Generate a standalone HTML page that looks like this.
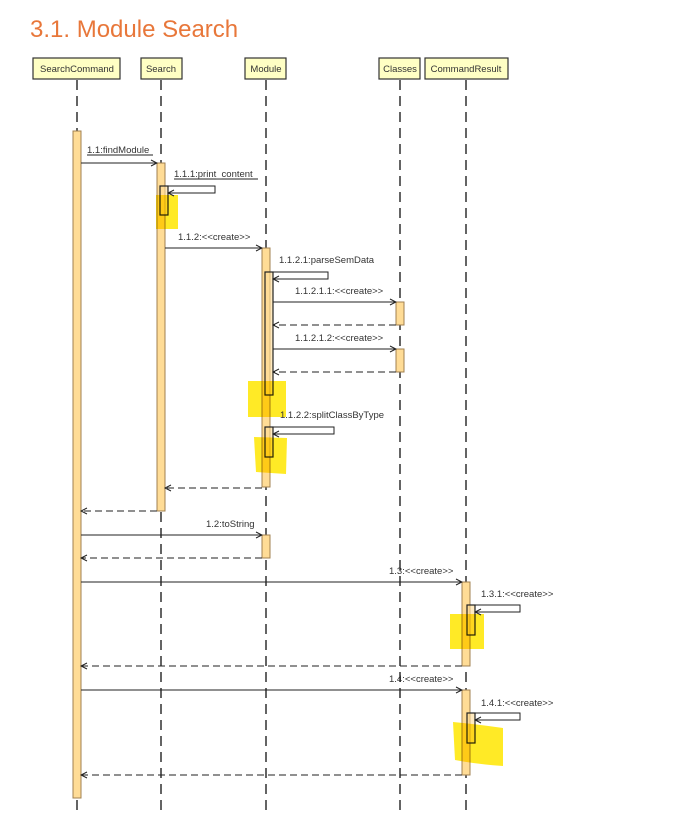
<!DOCTYPE html>
<html><head><meta charset="utf-8"><style>
body{margin:0;background:#fff;width:682px;height:823px;overflow:hidden}
svg text{font-family:"Liberation Sans",sans-serif;font-size:9.5px;fill:#333}
</style></head><body>
<svg width="682" height="823" xmlns="http://www.w3.org/2000/svg">
<defs><marker id="a" markerWidth="8" markerHeight="8" refX="7" refY="4" orient="auto"><path d="M1,1 L7,4 L1,7" fill="none" stroke="#222" stroke-width="1"/></marker></defs>
<text x="30" y="37" style="font-size:24px;fill:#e8773a">3.1. Module Search</text>
<g stroke="#111" stroke-width="1.3" stroke-dasharray="10,6" fill="none">
<line x1="77" y1="80" x2="77" y2="815"/><line x1="161" y1="80" x2="161" y2="815"/><line x1="266" y1="80" x2="266" y2="815"/><line x1="400" y1="80" x2="400" y2="815"/><line x1="466" y1="80" x2="466" y2="815"/>
</g>
<g fill="#ffffc4" stroke="#333" stroke-width="1.2">
<rect x="33" y="58" width="87" height="21"/><rect x="141" y="58" width="41" height="21"/><rect x="245" y="58" width="41" height="21"/><rect x="379" y="58" width="41" height="21"/><rect x="425" y="58" width="83" height="21"/>
</g>
<g text-anchor="middle"><text x="77" y="72">SearchCommand</text><text x="161" y="72">Search</text><text x="266" y="72">Module</text><text x="400" y="72">Classes</text><text x="466" y="72">CommandResult</text></g>
<g fill="#ffdc96" stroke="#a08050" stroke-width="1">
<rect x="73" y="131" width="8" height="667"/><rect x="157" y="163" width="8" height="348"/><rect x="262" y="248" width="8" height="239"/><rect x="396" y="302" width="8" height="23"/><rect x="396" y="349" width="8" height="23"/><rect x="262" y="535" width="8" height="23"/><rect x="462" y="582" width="8" height="84"/><rect x="462" y="690" width="8" height="85"/>
</g>
<g fill="#ffdc96" fill-opacity="0.6" stroke="#222" stroke-width="1.2">
<rect x="160" y="186" width="8" height="29"/><rect x="265" y="272" width="8" height="123"/><rect x="265" y="427" width="8" height="30"/><rect x="467" y="605" width="8" height="30"/><rect x="467" y="713" width="8" height="30"/>
</g>
<g fill="#ffe600" fill-opacity="0.85" stroke="none" style="mix-blend-mode:multiply">
<rect x="156" y="195" width="22" height="34"/><rect x="248" y="381" width="38" height="36"/><path d="M254,437 L287,438 L286,474 L256,472 Z"/><rect x="450" y="614" width="34" height="35"/><path d="M453,722 Q475,724 503,728 L503,766 Q475,764 455,760 Z"/>
</g>
<g stroke="#222" stroke-width="1" fill="none">
<line x1="81" y1="163" x2="157" y2="163" marker-end="url(#a)"/>
<path d="M168,186 H215 V193 H168" marker-end="url(#a)"/>
<line x1="165" y1="248" x2="262" y2="248" marker-end="url(#a)"/>
<path d="M273,272 H328 V279 H273" marker-end="url(#a)"/>
<line x1="273" y1="302" x2="396" y2="302" marker-end="url(#a)"/>
<line x1="273" y1="349" x2="396" y2="349" marker-end="url(#a)"/>
<path d="M273,427 H334 V434 H273" marker-end="url(#a)"/>
<line x1="81" y1="535" x2="262" y2="535" marker-end="url(#a)"/>
<line x1="81" y1="582" x2="462" y2="582" marker-end="url(#a)"/>
<path d="M475,605 H520 V612 H475" marker-end="url(#a)"/>
<line x1="81" y1="690" x2="462" y2="690" marker-end="url(#a)"/>
<path d="M475,713 H520 V720 H475" marker-end="url(#a)"/>
<g stroke-dasharray="7,4">
<line x1="396" y1="325" x2="273" y2="325" marker-end="url(#a)"/>
<line x1="396" y1="372" x2="273" y2="372" marker-end="url(#a)"/>
<line x1="262" y1="488" x2="165" y2="488" marker-end="url(#a)"/>
<line x1="157" y1="511" x2="81" y2="511" marker-end="url(#a)"/>
<line x1="262" y1="558" x2="81" y2="558" marker-end="url(#a)"/>
<line x1="462" y1="666" x2="81" y2="666" marker-end="url(#a)"/>
<line x1="462" y1="775" x2="81" y2="775" marker-end="url(#a)"/>
</g>
<line x1="87" y1="155" x2="153" y2="155"/><line x1="174" y1="179" x2="258" y2="179"/>
</g>
<text x="87" y="153">1.1:findModule</text>
<text x="174" y="177">1.1.1:print_content</text>
<text x="178" y="240">1.1.2:&lt;&lt;create&gt;&gt;</text>
<text x="279" y="263">1.1.2.1:parseSemData</text>
<text x="295" y="294">1.1.2.1.1:&lt;&lt;create&gt;&gt;</text>
<text x="295" y="341">1.1.2.1.2:&lt;&lt;create&gt;&gt;</text>
<text x="280" y="418">1.1.2.2:splitClassByType</text>
<text x="206" y="527">1.2:toString</text>
<text x="389" y="574">1.3:&lt;&lt;create&gt;&gt;</text>
<text x="481" y="597">1.3.1:&lt;&lt;create&gt;&gt;</text>
<text x="389" y="682">1.4:&lt;&lt;create&gt;&gt;</text>
<text x="481" y="706">1.4.1:&lt;&lt;create&gt;&gt;</text>
</svg>
</body></html>
